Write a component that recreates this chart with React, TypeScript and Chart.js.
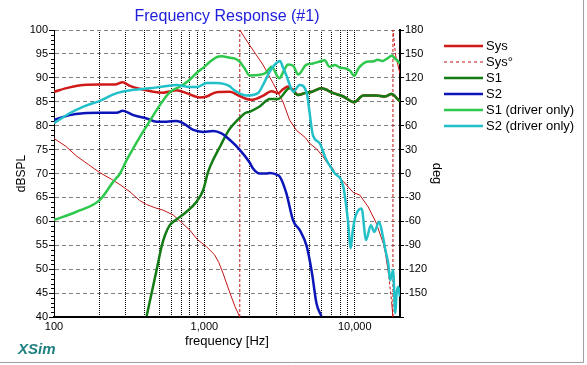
import React, { useEffect, useRef } from 'react';
import { Chart, registerables } from 'chart.js';

Chart.register(...registerables);

// ---------- data ----------
const sysFreq = [100, 127, 157, 202, 254, 286, 320, 372, 457, 532, 600, 652, 760, 870, 933, 1035, 1205, 1480, 1715, 2050, 2465, 2790, 3100, 3330, 3600, 3900, 4200, 4650, 5200, 6000, 7200, 8400, 9900, 11400, 13900, 15800, 17600, 19500, 20000];
const sysDb = [87.1, 88.0, 88.5, 88.6, 88.6, 89.1, 88.3, 87.7, 87.1, 86.9, 87.2, 87.4, 86.8, 86.1, 85.9, 86.1, 87.0, 87.1, 86.2, 85.4, 86.3, 87.2, 86.8, 87.6, 88.2, 87.5, 86.4, 86.8, 87.1, 87.8, 86.8, 86.1, 84.9, 86.3, 86.3, 86.1, 86.6, 85.4, 85.1];

const phaseFreq = [100, 120, 141, 170, 202, 240, 275, 320, 372, 413, 470, 532, 620, 700, 800, 900, 1035, 1170, 1250, 1330, 1480, 1600, 1720, 1720, 2000, 2460, 2870, 3330, 3690, 4100, 4700, 5000, 5560, 6170, 6460, 7170, 7350, 8400, 9800, 10800, 12300, 13900, 15500, 16000, 16700, 17600, 17950, 17950, 18700, 20000];
const phaseDeg = [44, 34, 22, 11, 1, -7, -14, -23, -34, -39, -43, -46, -52, -61, -71, -83, -92, -102, -112, -125, -150, -167, -180, 180, 161, 136, 113, 90, 67, 54, 45, 38, 31, 21, 15, 6, 0, -10, -24, -27, -42, -62, -88, -100, -123, -161, -180, 180, 148, 125];

const s1Freq = [413, 446, 481, 519, 547, 589, 652, 761, 887, 981, 1060, 1150, 1270, 1400, 1480, 1640, 1715, 1860, 2000, 2330, 2720, 3100, 3680, 4200, 4650, 5200, 6000, 7200, 8400, 9900, 11400, 13900, 15800, 17600, 19500, 20000];
const s1Db = [40.2, 45, 49.8, 54.7, 57.1, 59.2, 60.4, 62, 64.1, 66.5, 70.4, 73, 75.6, 78.2, 79.4, 81, 81.6, 82.6, 82.9, 84.0, 85.6, 85.6, 87.8, 86.4, 86.8, 87.1, 87.8, 86.8, 86.1, 84.9, 86.3, 86.3, 86.1, 86.6, 85.4, 85.1];

const s2Freq = [100, 127, 157, 202, 261, 286, 337, 413, 481, 561, 652, 725, 845, 982, 1145, 1300, 1480, 1715, 2000, 2100, 2330, 2600, 2720, 3000, 3180, 3500, 3900, 4300, 4800, 5200, 5570, 6000];
const s2Db = [81.2, 82.2, 82.6, 82.7, 82.7, 83.1, 82.2, 81.5, 80.8, 80.8, 81.0, 80.5, 79.1, 78.7, 78.9, 78.4, 77.0, 75.0, 72.3, 71.1, 70.0, 70.0, 70.1, 69.8, 69.3, 66.0, 60.1, 58.2, 54.7, 49.1, 42.8, 40.2];

const s1DrvFreq = [100, 141, 202, 248, 275, 304, 340, 372, 434, 506, 590, 700, 800, 887, 1000, 1085, 1200, 1300, 1480, 1600, 1715, 1850, 2000, 2300, 2550, 2800, 3150, 3380, 3600, 3900, 4200, 4750, 5270, 5850, 6300, 6800, 7400, 8000, 8600, 9300, 9900, 10600, 11400, 12300, 13200, 14200, 15300, 16400, 17600, 18600, 19500, 20000];
const s1DrvDb = [60.3, 62.0, 64.5, 68.3, 70.0, 72.8, 75.5, 77.6, 81.0, 84.3, 87.0, 88.3, 89.6, 91.0, 92.3, 93.3, 94.3, 94.5, 94.2, 94.0, 93.4, 92.0, 90.5, 90.6, 91.0, 92.3, 89.9, 91.5, 92.8, 92.5, 90.7, 92.7, 93.0, 93.4, 93.7, 92.3, 92.7, 92.1, 92.0, 91.5, 90.4, 92.0, 93.0, 93.4, 93.4, 93.8, 93.5, 94.0, 94.6, 94.0, 93.4, 93.0];

const s2DrvFreq = [100, 127, 157, 202, 261, 337, 434, 561, 652, 800, 900, 1035, 1200, 1480, 1550, 1700, 1900, 2270, 2500, 2720, 2950, 3180, 3350, 3500, 3700, 3900, 4300, 4800, 5000, 5270, 5850, 6400, 7300, 8400, 9000, 9400, 9700, 10100, 11100, 11900, 12800, 13500, 14500, 15400, 16000, 16700, 17200, 18000, 18600, 19000, 19500, 20000];
const s2DrvDb = [80.5, 82.6, 84.0, 85.2, 86.8, 87.5, 87.8, 88.3, 88.5, 88.1, 88.1, 88.9, 88.9, 88.2, 87.6, 86.8, 86.3, 86.8, 89.0, 91.3, 92.8, 93.5, 92.0, 90.6, 88.5, 87.1, 88.5, 86.8, 82.9, 78.0, 76.3, 73.2, 70.2, 67.2, 60.3, 54.4, 58.0, 61.0, 62.7, 56.1, 59.2, 57.8, 59.9, 56.8, 54.0, 51.2, 47.7, 49.8, 40.8, 45.0, 46.3, 44.3];

const xGridFreqs = [100, 200, 300, 400, 500, 600, 700, 800, 900, 1000, 2000, 3000, 4000, 5000, 6000, 7000, 8000, 9000, 10000, 20000];
const xLabelFreqs = [100, 1000, 10000];
const seriesLabels = ['Sys', 'Sys°', 'S1', 'S2', 'S1 (driver only)', 'S2 (driver only)'];
const chartTitle = 'Frequency Response (#1)';
const xTitle = 'frequency [Hz]';
const yTitle = 'dBSPL';
const y2Title = 'deg';
const brand = 'XSim';

const FONT = "Arial, 'Liberation Sans', sans-serif";

const pts = (xs: number[], ys: number[]) => xs.map((x, i) => ({ x, y: ys[i] }));

const overlay = {
  id: 'overlay',
  afterDraw(chart: any) {
    const { ctx, chartArea } = chart;
    const yS = chart.scales.y;
    ctx.save();
    // minor ticks on the left axis
    ctx.strokeStyle = '#000';
    ctx.lineWidth = 1;
    for (let v = yS.min; v <= yS.max; v++) {
      if (v % 5 === 0) continue;
      const py = Math.round(yS.getPixelForValue(v)) + 0.5;
      ctx.beginPath();
      ctx.moveTo(chartArea.left - 3, py);
      ctx.lineTo(chartArea.left, py);
      ctx.stroke();
    }
    // title
    ctx.fillStyle = '#2020dc';
    ctx.font = `16px ${FONT}`;
    ctx.textAlign = 'center';
    ctx.textBaseline = 'middle';
    ctx.fillText(chartTitle, (chartArea.left + chartArea.right) / 2, 17);
    // legend
    const lx = chartArea.right + 44;
    chart.data.datasets.forEach((ds: any, i: number) => {
      const ly = 46 + i * 16;
      ctx.save();
      ctx.strokeStyle = ds.borderColor;
      ctx.lineWidth = ds.legendWidth;
      ctx.setLineDash(ds.legendDash || []);
      ctx.beginPath();
      ctx.moveTo(lx, ly);
      ctx.lineTo(lx + 39, ly);
      ctx.stroke();
      ctx.restore();
      ctx.fillStyle = '#000';
      ctx.font = `13px ${FONT}`;
      ctx.textAlign = 'left';
      ctx.textBaseline = 'middle';
      ctx.fillText(seriesLabels[i], lx + 42, ly);
    });
    // brand
    ctx.fillStyle = '#1f8080';
    ctx.font = `italic bold 15px ${FONT}`;
    ctx.textAlign = 'left';
    ctx.textBaseline = 'alphabetic';
    ctx.fillText(brand, 18, 354);
    // panel frame
    ctx.strokeStyle = '#a0a0a0';
    ctx.lineWidth = 1;
    ctx.beginPath();
    ctx.moveTo(583.5, 0);
    ctx.lineTo(583.5, 362.5);
    ctx.lineTo(0, 362.5);
    ctx.stroke();
    ctx.restore();
  },
};

export default function App() {
  const ref = useRef<HTMLCanvasElement | null>(null);
  useEffect(() => {
    if (!ref.current) return;
    const dbLine = (label: string, xs: number[], ys: number[], color: string, order: number) => ({
      label,
      data: pts(xs, ys),
      borderColor: color,
      backgroundColor: color,
      borderWidth: 2.5,
      legendWidth: 2.5,
      yAxisID: 'y',
      order,
      cubicInterpolationMode: 'monotone',
      pointRadius: 0,
    });
    const chart = new Chart(ref.current, {
      type: 'line',
      data: {
        datasets: [
          dbLine(seriesLabels[0], sysFreq, sysDb, '#d01a1a', 5),
          {
            label: seriesLabels[1],
            data: pts(phaseFreq, phaseDeg),
            borderColor: '#c41414',
            backgroundColor: '#c41414',
            borderWidth: 1,
            legendWidth: 1,
            legendDash: [3, 3],
            yAxisID: 'y2',
            order: 6,
            tension: 0,
            pointRadius: 0,
            segment: {
              borderDash: (c: any) => (Math.abs(c.p1.parsed.y - c.p0.parsed.y) > 30 ? [3, 2] : undefined),
            },
          } as any,
          dbLine(seriesLabels[2], s1Freq, s1Db, '#147c14', 4),
          dbLine(seriesLabels[3], s2Freq, s2Db, '#0c16b8', 3),
          dbLine(seriesLabels[4], s1DrvFreq, s1DrvDb, '#2dc84c', 2),
          dbLine(seriesLabels[5], s2DrvFreq, s2DrvDb, '#22c0c8', 1),
        ] as any,
      },
      options: {
        animation: false,
        responsive: false,
        maintainAspectRatio: false,
        layout: { padding: { top: 30, left: 0, right: 0, bottom: 0 } },
        plugins: {
          legend: { display: false },
          title: { display: false },
          tooltip: { enabled: false },
        },
        scales: {
          x: {
            type: 'logarithmic',
            position: 'bottom',
            min: 100,
            max: 20000,
            afterBuildTicks: (s: any) => {
              s.ticks = xGridFreqs.map((v) => ({ value: v }));
            },
            afterFit: (s: any) => {
              s.height = 48;
            },
            ticks: {
              autoSkip: false,
              maxRotation: 0,
              minRotation: 0,
              padding: 3,
              color: '#000',
              font: { size: 11, family: FONT },
              callback: (v: any) => (xLabelFreqs.includes(Number(v)) ? Number(v).toLocaleString('en-US') : ''),
            },
            grid: { color: '#000', lineWidth: 1, drawTicks: false },
            border: { color: '#000', width: 2, dash: [1, 1] },
            title: {
              display: true,
              text: xTitle,
              color: '#000',
              font: { size: 13, family: FONT },
              padding: { top: 0, bottom: 16 },
            },
          },
          y: {
            type: 'linear',
            position: 'left',
            min: 40,
            max: 100,
            afterFit: (s: any) => {
              s.width = 54;
            },
            ticks: { stepSize: 5, padding: 1, color: '#000', font: { size: 11, family: FONT } },
            grid: { color: '#808080', lineWidth: 1, tickColor: '#000', tickLength: 5 },
            border: { color: '#000', width: 1, dash: [4, 3] },
            title: {
              display: true,
              text: yTitle,
              color: '#000',
              font: { size: 12, family: FONT },
              padding: { top: 14, bottom: 0 },
            },
          },
          y2: {
            type: 'linear',
            position: 'right',
            min: -180,
            max: 180,
            afterFit: (s: any) => {
              s.width = 187;
            },
            ticks: {
              stepSize: 30,
              padding: 1,
              color: '#000',
              font: { size: 11, family: FONT },
              callback: (v: any) => (Number(v) === -180 ? '' : String(v)),
            },
            grid: { drawOnChartArea: false, tickColor: '#000', tickLength: 4 },
            border: { color: '#000', width: 2 },
            title: {
              display: true,
              text: y2Title,
              color: '#000',
              font: { size: 13, family: FONT },
              padding: { top: 143, bottom: 0 },
            },
          },
        },
      } as any,
      plugins: [overlay],
    });
    return () => chart.destroy();
  }, []);
  return (
    <div style={{ position: 'absolute', left: 0, top: 0, width: 587, height: 365, background: '#fff' }}>
      <canvas ref={ref} width={587} height={365} style={{ width: 587, height: 365, display: 'block' }} />
    </div>
  );
}
